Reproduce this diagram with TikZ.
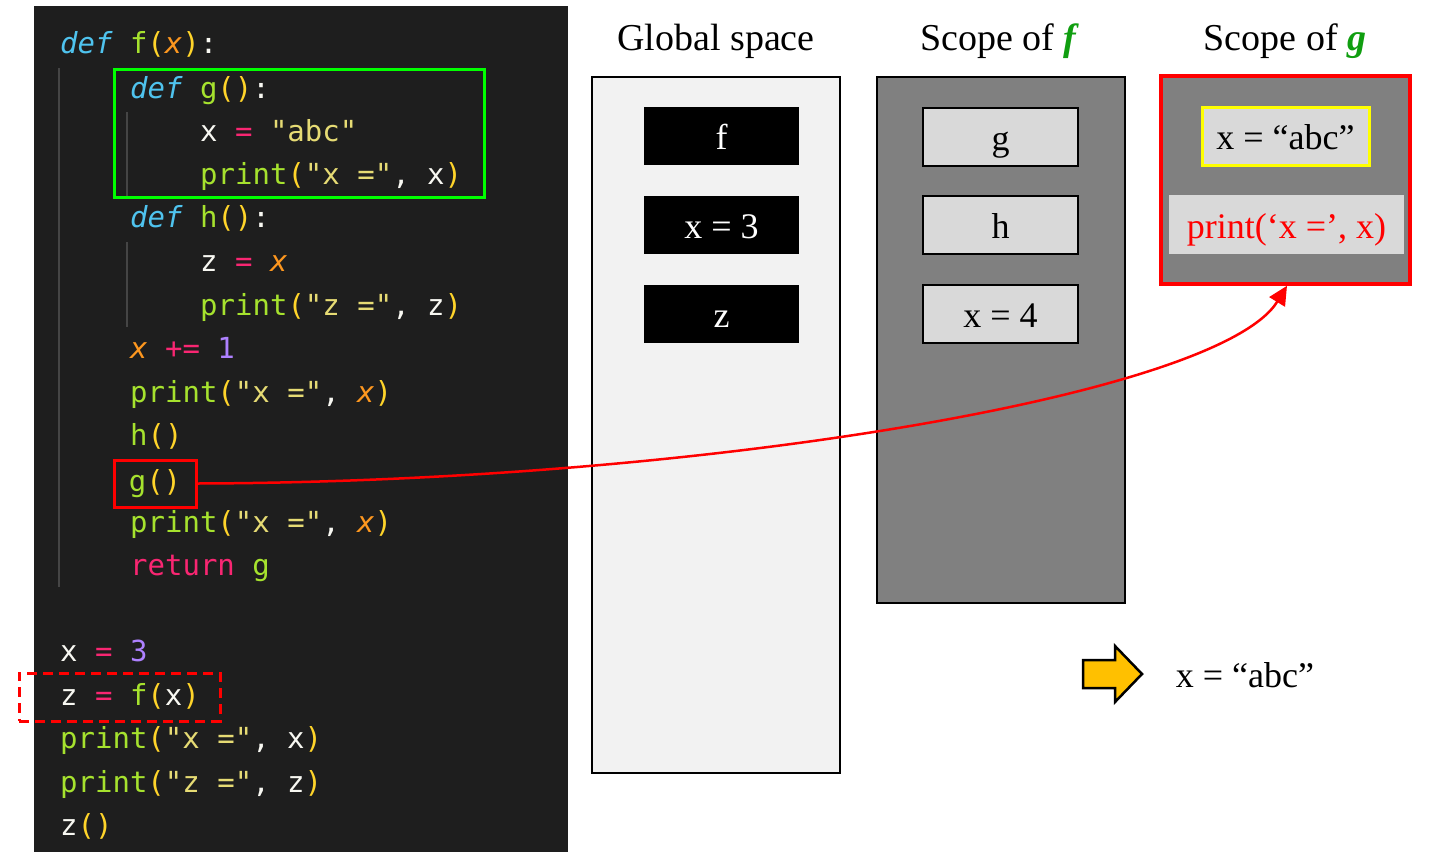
\documentclass[tikz,border=0pt]{standalone}
\usepackage{fontspec}
\setmainfont{Liberation Serif}
\newfontfamily\codefont{DejaVu Sans Mono}
\usepackage{xcolor}
\usetikzlibrary{arrows.meta}

\definecolor{codebg}{HTML}{1E1E1E}
\definecolor{guidecol}{HTML}{454545}
\definecolor{kwcol}{HTML}{4FC3EE}
\definecolor{fncol}{HTML}{A6E22E}
\definecolor{brkcol}{HTML}{FFD42A}
\definecolor{prmcol}{HTML}{FD971F}
\definecolor{opcol}{HTML}{F92672}
\definecolor{strcol}{HTML}{E6DB74}
\definecolor{numcol}{HTML}{AE81FF}
\definecolor{plncol}{HTML}{F8F8F2}
\definecolor{panelgray}{HTML}{808080}
\definecolor{itemgray}{HTML}{D9D9D9}
\definecolor{globalfill}{HTML}{F2F2F2}
\definecolor{titlegreen}{HTML}{109E10}
\definecolor{resultyellow}{HTML}{FFC000}
\definecolor{boxgreen}{HTML}{00FF00}
\definecolor{markyellow}{HTML}{FFFF00}

% syntax colours for the code listing
\newcommand{\kwd}[1]{\textcolor{kwcol}{\itshape #1}}
\newcommand{\fnc}[1]{\textcolor{fncol}{#1}}
\newcommand{\brk}[1]{\textcolor{brkcol}{#1}}
\newcommand{\parm}[1]{\textcolor{prmcol}{\itshape #1}}
\newcommand{\opr}[1]{\textcolor{opcol}{#1}}
\newcommand{\strg}[1]{\textcolor{strcol}{#1}}
\newcommand{\numb}[1]{\textcolor{numcol}{#1}}
\newcommand{\pln}[1]{\textcolor{plncol}{#1}}

\begin{document}
\begin{tikzpicture}[x=1pt, y=-1pt,
    every node/.style={inner sep=0pt},
    codeline/.style={anchor=base west, font=\codefont\fontsize{29}{34}\selectfont},
    guide/.style={guidecol, line width=2pt},
    callbox/.style={draw=red, line width=3pt, minimum width=82pt, minimum height=47pt,
      font=\codefont\fontsize{29}{34}\selectfont},
    title/.style={anchor=base, font=\fontsize{38}{44}\selectfont},
    panel/.style={draw=black, line width=2pt, fill=panelgray},
    itemtext/.style={font=\fontsize{36}{42}\selectfont, text height=27pt, text depth=0pt},
    globitem/.style={itemtext, fill=black, text=white, minimum width=155pt, minimum height=58pt},
    fitem/.style={itemtext, fill=itemgray, draw=black, line width=2pt, minimum width=155pt, minimum height=58pt},
    callarrow/.style={red, line width=2.5pt, -{Triangle[length=19pt, width=18pt]}},
    resarrow/.style={draw=black, fill=resultyellow, line width=2.5pt, line join=miter}]

    \useasboundingbox (0,0) rectangle (1434,862);

    % code listing
    \fill[codebg] (34,6) rectangle (568,852);
    \draw[guide] (59,68) -- (59,587);
    \draw[guide] (127,112) -- (127,196);
    \draw[guide] (127,242) -- (127,327);

    \node[codeline] (l1) at (60,53) {\kwd{def} \fnc{f}\brk{(}\parm{x}\brk{)}\pln{:}};
    \node[codeline] (l2) at (130,98) {\kwd{def} \fnc{g}\brk{()}\pln{:}};
    \node[codeline] (l3) at (200,141) {\pln{x} \opr{=} \strg{"abc"}};
    \node[codeline] (l4) at (200,184) {\fnc{print}\brk{(}\strg{"x ="}\pln{, x}\brk{)}};
    \node[codeline] (l5) at (130,227) {\kwd{def} \fnc{h}\brk{()}\pln{:}};
    \node[codeline] (l6) at (200,271) {\pln{z} \opr{=} \parm{x}};
    \node[codeline] (l7) at (200,315) {\fnc{print}\brk{(}\strg{"z ="}\pln{, z}\brk{)}};
    \node[codeline] (l8) at (130,358) {\parm{x} \opr{+=} \numb{1}};
    \node[codeline] (l9) at (130,402) {\fnc{print}\brk{(}\strg{"x ="}\pln{,} \parm{x}\brk{)}};
    \node[codeline] (l10) at (130,445) {\fnc{h}\brk{()}};
    \node[callbox] (gcall) at (155,483.5) {\fnc{g}\brk{()}};
    \node[codeline] (l12) at (130,532) {\fnc{print}\brk{(}\strg{"x ="}\pln{,} \parm{x}\brk{)}};
    \node[codeline] (l13) at (130,575) {\opr{return} \fnc{g}};
    \node[codeline] (l14) at (60,661) {\pln{x} \opr{=} \numb{3}};
    \node[codeline] (l15) at (60,705) {\pln{z} \opr{=} \fnc{f}\brk{(}\pln{x}\brk{)}};
    \node[codeline] (l16) at (60,748) {\fnc{print}\brk{(}\strg{"x ="}\pln{, x}\brk{)}};
    \node[codeline] (l17) at (60,792) {\fnc{print}\brk{(}\strg{"z ="}\pln{, z}\brk{)}};
    \node[codeline] (l18) at (60,835) {\pln{z}\brk{()}};

    \node[draw=boxgreen, line width=3pt, minimum width=370pt, minimum height=128pt] (gbody) at (299,133) {};
    \node[draw=red, line width=3pt, dash pattern=on 10pt off 6pt, minimum width=201pt, minimum height=48pt] (fcall) at (119.5,697) {};

    % titles
    \node[title] (tglobal) at (716,50) {Global space};
    \node[title] (tf) at (1000,50) {Scope of \textcolor{titlegreen}{\textbf{\textit{f}}}};
    \node[title] (tg) at (1285,50) {Scope of \textcolor{titlegreen}{\textbf{\textit{g}}}};

    % global space
    \node[panel, fill=globalfill, minimum width=248pt, minimum height=696pt] (global) at (716,425) {};
    \node[globitem] (gf) at (721.5,136) {f};
    \node[globitem] (gx) at (721.5,225) {x = 3};
    \node[globitem] (gz) at (721.5,314) {z};

    % scope of f
    \node[panel, minimum width=248pt, minimum height=526pt] (fscope) at (1001,340) {};
    \node[fitem] (fg) at (1000.5,137) {g};
    \node[fitem] (fh) at (1000.5,225) {h};
    \node[fitem] (fx) at (1000.5,313.5) {x = 4};

    % scope of g
    \node[panel, draw=red, line width=3.5pt, minimum width=249pt, minimum height=208pt] (gscope) at (1285.5,180) {};
    \node[itemtext, fill=itemgray, draw=markyellow, line width=3pt, minimum width=167pt, minimum height=58pt] (gx) at (1285.5,136) {x = “abc”};
    \node[itemtext, fill=itemgray, text=red, minimum width=235pt, minimum height=59pt] (gprint) at (1286.5,224.5) {print(‘x =’, x)};

    \draw[callarrow] (gcall.east) .. controls (700,482) and (1220,395) .. ([xshift=1.5pt]gscope.south);

    % output
    \draw[resarrow] (1083,660) -- (1115,660) -- (1115,646) -- (1142,674) -- (1115,702) -- (1115,688) -- (1083,688) -- cycle;
    \node[itemtext] (result) at (1245,674) {x = “abc”};
\end{tikzpicture}
\end{document}
